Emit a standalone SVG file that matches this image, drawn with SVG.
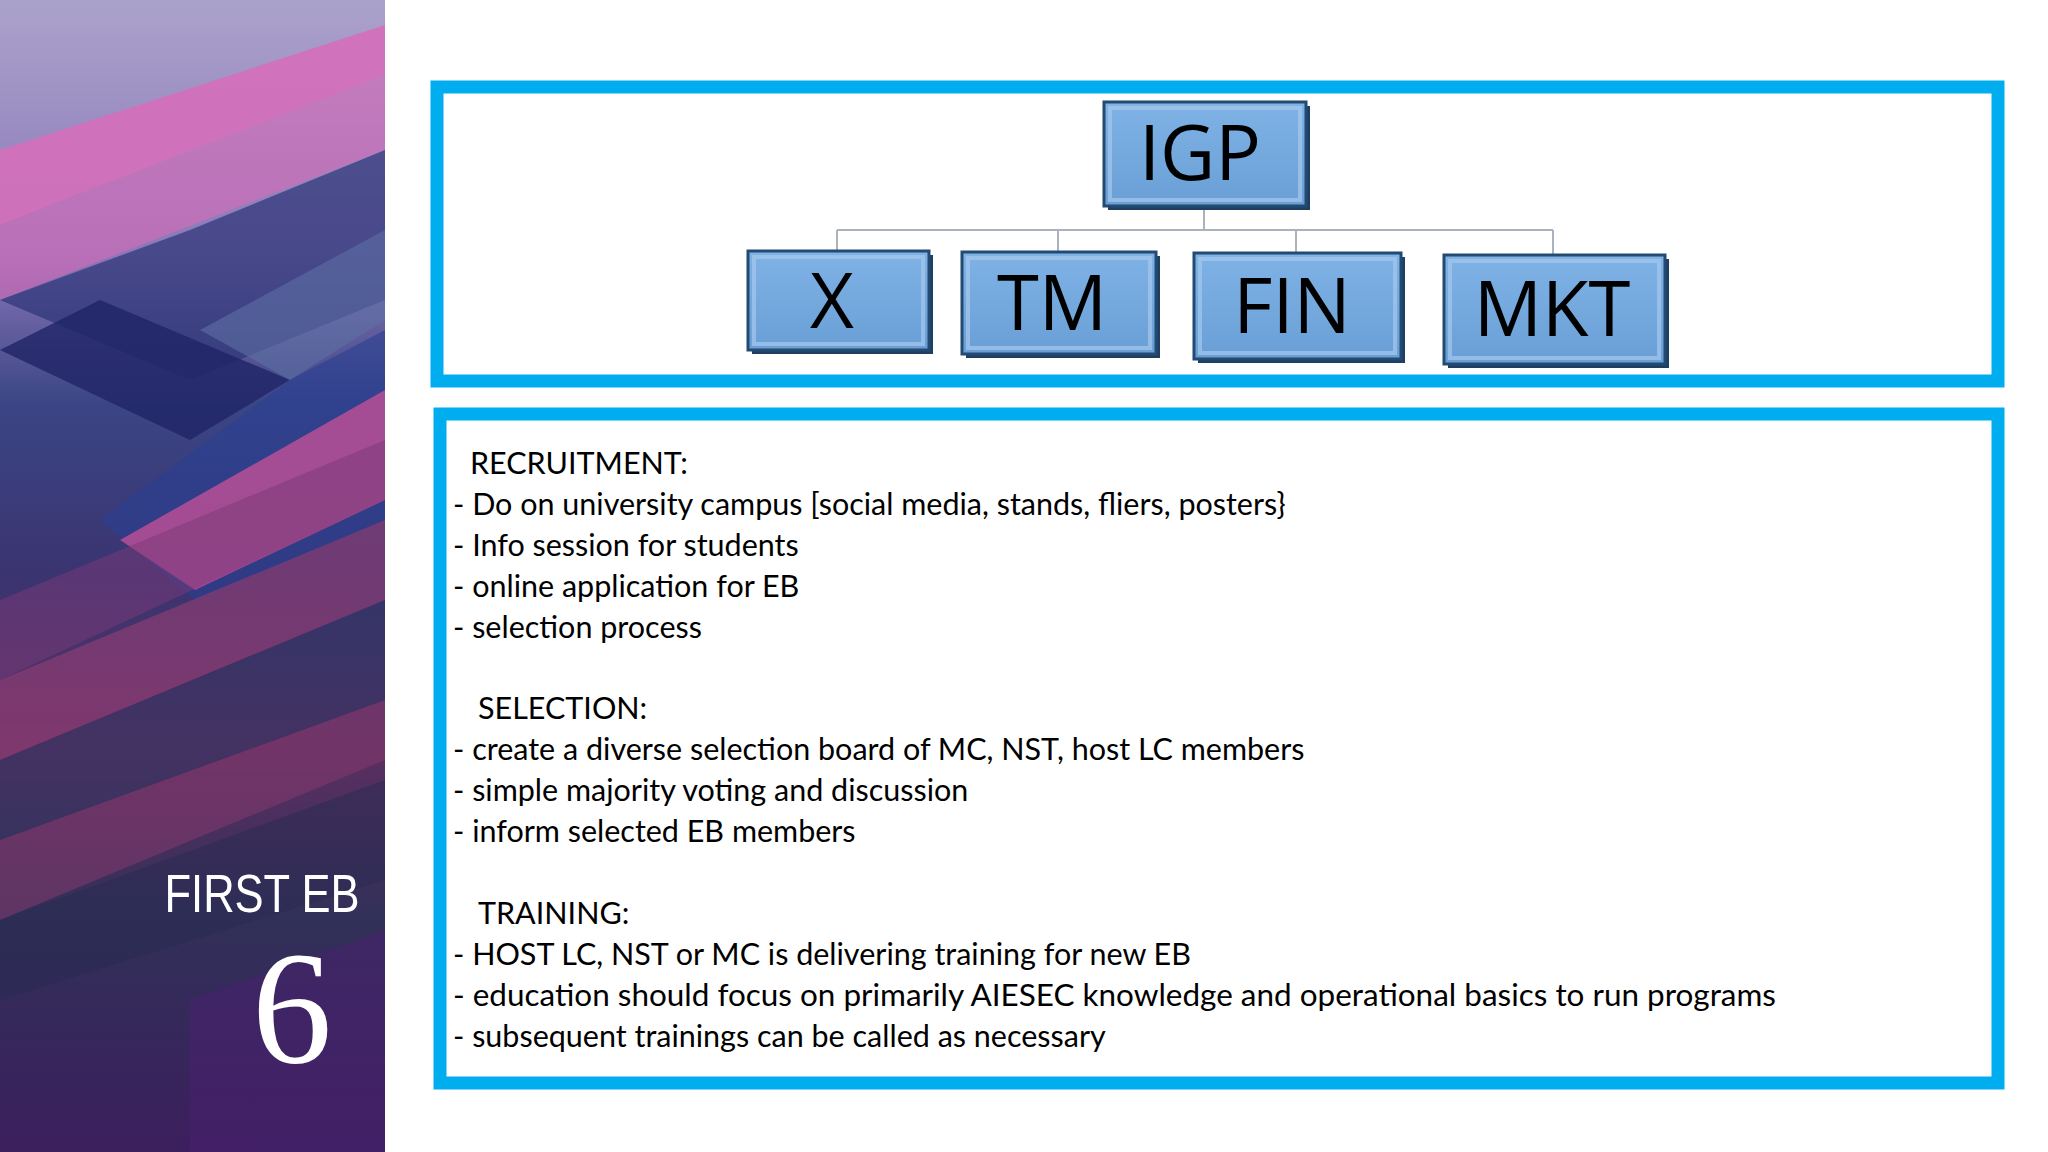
<svg xmlns="http://www.w3.org/2000/svg" width="2048" height="1152" viewBox="0 0 2048 1152">
<defs>
<linearGradient id="bg" x1="0" y1="0" x2="0" y2="1">
<stop offset="0" stop-color="#aba2cb"/><stop offset="0.22" stop-color="#8a78b8"/><stop offset="0.35" stop-color="#3b4585"/><stop offset="0.5" stop-color="#3a3470"/><stop offset="0.65" stop-color="#5b2f62"/><stop offset="0.8" stop-color="#313058"/><stop offset="1" stop-color="#3c1f5e"/>
</linearGradient>
<linearGradient id="nb" x1="0" y1="0" x2="0" y2="1"><stop offset="0" stop-color="#7fb3e6"/><stop offset="1" stop-color="#6a9fd6"/></linearGradient>
<style>
.nd{fill:url(#nb);stroke:#234a72;stroke-width:3}
.bev{fill:none;stroke:#a5c8ec;stroke-width:4;opacity:.7}
.lbl{font-family:"Open Sans","Noto Sans",sans-serif;font-size:76px;fill:#000;text-anchor:middle}
.frame{fill:#fff;stroke:#00aeef;stroke-width:13}
.body{font-family:Lato,"Open Sans",sans-serif;font-size:30.5px;fill:#000}
.con{stroke:#aab3bd;stroke-width:2;fill:none}
</style>
</defs>
<rect width="2048" height="1152" fill="#fff"/>
<g id="sidebar">
<rect x="0" y="0" width="385" height="1152" fill="url(#bg)"/>
<polygon points="0,150 385,25 385,75 0,225" fill="#d56fba" opacity=".9"/>
<polygon points="0,225 385,75 385,150 0,300" fill="#d86ab8" opacity=".6"/>
<polygon points="0,300 190,230 385,150 385,300 190,380 0,300" fill="#2c3478" opacity=".7"/>
<polygon points="100,300 290,380 190,440 0,350" fill="#1f2466" opacity=".8"/>
<polygon points="290,380 385,330 385,520 195,600 100,520" fill="#2a3f92" opacity=".6"/>
<polygon points="385,230 385,320 290,380 200,330" fill="#5e6fa3" opacity=".6"/>
<polygon points="385,390 385,500 195,590 120,540" fill="#d65398" opacity=".7"/>
<polygon points="0,600 385,440 385,500 0,680" fill="#7a3a78" opacity=".5"/>
<polygon points="0,680 385,520 385,600 0,760" fill="#9c3f76" opacity=".55"/>
<polygon points="0,760 385,600 385,700 0,840" fill="#2c3562" opacity=".5"/>
<polygon points="0,840 385,700 385,760 0,920" fill="#8a3a6e" opacity=".5"/>
<polygon points="0,920 385,780 385,880 0,1000" fill="#272a52" opacity=".5"/>
<polygon points="190,1000 385,930 385,1152 190,1152" fill="#4a2070" opacity=".5"/>
<text x="262" y="912" font-family="Liberation Sans,Arial,sans-serif" font-size="54" fill="#fff" text-anchor="middle" textLength="195" lengthAdjust="spacingAndGlyphs">FIRST EB</text>
<text x="292" y="1062" font-family="Liberation Serif,serif" font-size="160" fill="#fff" text-anchor="middle">6</text>
</g>
<g id="top-frame"><rect class="frame" x="437" y="87" width="1561" height="294"/></g>
<g id="bottom-frame"><rect class="frame" x="440" y="414" width="1558" height="669"/></g>
<g id="connectors">
<path class="con" d="M1204,206 V230 M837,230 H1553 M837,230 V251 M1058,230 V252 M1296,230 V253 M1553,230 V255"/>
</g>
<g id="n-igp"><rect x="1108" y="106" width="202" height="104" fill="#1f3f62"/><rect class="nd" x="1104" y="102" width="202" height="104"/><rect class="bev" x="1110" y="108" width="190" height="92"/><text class="lbl" x="1200" y="180">IGP</text></g>
<g id="n-x"><rect x="752" y="255" width="181" height="99" fill="#1f3f62"/><rect class="nd" x="748" y="251" width="181" height="99"/><rect class="bev" x="754" y="257" width="169" height="87"/><text class="lbl" x="832" y="328">X</text></g>
<g id="n-tm"><rect x="966" y="256" width="194" height="102" fill="#1f3f62"/><rect class="nd" x="962" y="252" width="194" height="102"/><rect class="bev" x="968" y="258" width="182" height="90"/><text class="lbl" x="1052" y="330">TM</text></g>
<g id="n-fin"><rect x="1198" y="257" width="207" height="106" fill="#1f3f62"/><rect class="nd" x="1194" y="253" width="207" height="106"/><rect class="bev" x="1200" y="259" width="195" height="94"/><text class="lbl" x="1292" y="333">FIN</text></g>
<g id="n-mkt"><rect x="1448" y="259" width="221" height="109" fill="#1f3f62"/><rect class="nd" x="1444" y="255" width="221" height="109"/><rect class="bev" x="1450" y="261" width="209" height="97"/><text class="lbl" x="1552" y="336">MKT</text></g>
<g id="body-text" class="body">
<text x="470" y="474">RECRUITMENT:</text>
<text x="453" y="515">- Do on university campus [social media, stands, fliers, posters}</text>
<text x="453" y="556">- Info session for students</text>
<text x="453" y="597">- online application for EB</text>
<text x="453" y="638">- selection process</text>
<text x="478" y="719">SELECTION:</text>
<text x="453" y="760">- create a diverse selection board of MC, NST, host LC members</text>
<text x="453" y="801">- simple majority voting and discussion</text>
<text x="453" y="842">- inform selected EB members</text>
<text x="478" y="924">TRAINING:</text>
<text x="453" y="965">- HOST LC, NST or MC is delivering training for new EB</text>
<text x="453" y="1006" textLength="1323" lengthAdjust="spacingAndGlyphs">- education should focus on primarily AIESEC knowledge and operational basics to run programs</text>
<text x="453" y="1047">- subsequent trainings can be called as necessary</text>
</g>
</svg>
